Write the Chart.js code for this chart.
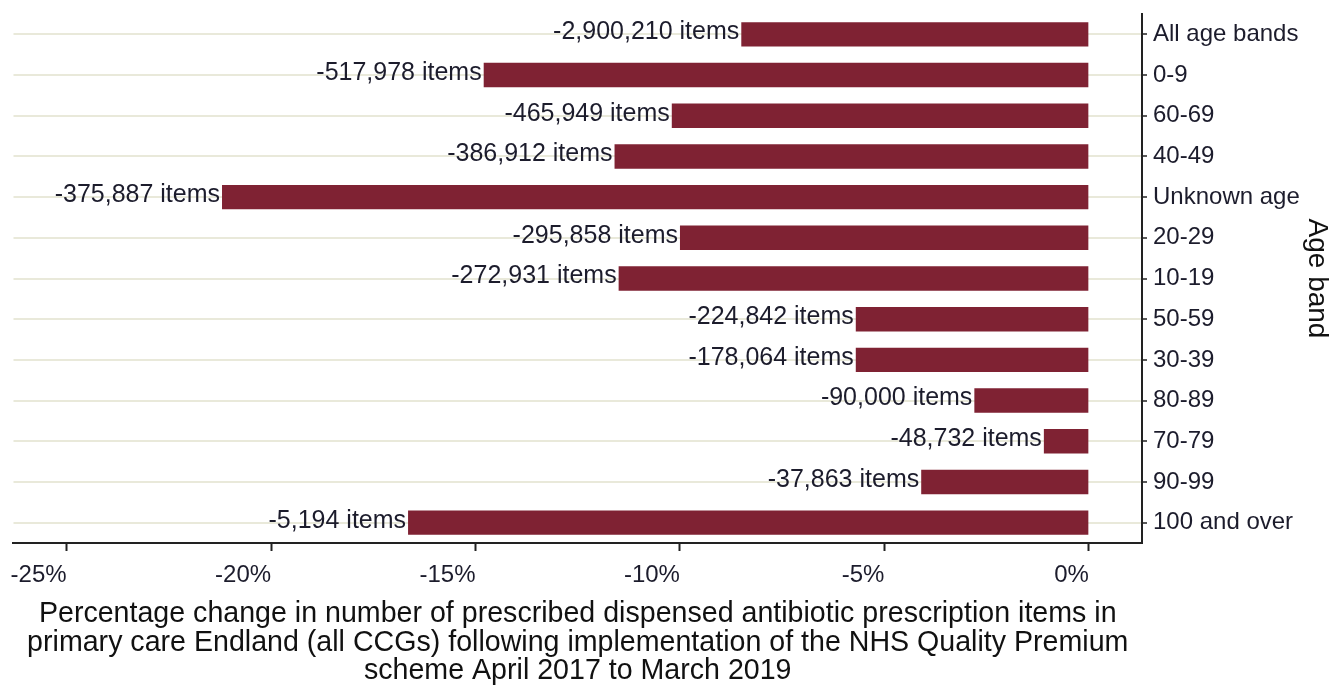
<!DOCTYPE html>
<html>
<head>
<meta charset="utf-8">
<script src="https://cdn.jsdelivr.net/npm/chart.js@4.4.1/dist/chart.umd.min.js"></script>
<style>
  html, body { margin: 0; padding: 0; background: #fff; }
  #wrap { width: 1340px; height: 686px; }
</style>
</head>
<body>
<div id="wrap"><canvas id="ageChart" width="1340" height="686"></canvas></div>
<script>
// age bands, top to bottom as drawn
const ageBands = ['All age bands', '0-9', '60-69', '40-49', 'Unknown age', '20-29', '10-19',
    '50-59', '30-39', '80-89', '70-79', '90-99', '100 and over'];
// percentage change
const pctChange = [-8.5, -14.8, -10.2, -11.6, -21.2, -10.0, -11.5, -5.7, -5.7, -2.8, -1.1, -4.1, -16.65];
// change in number of items (bar labels)
const itemChange = [-2900210, -517978, -465949, -386912, -375887, -295858, -272931,
    -224842, -178064, -90000, -48732, -37863, -5194];
const xTicks = [-25, -20, -15, -10, -5, 0];
const xTitle = ['Percentage change in number of prescribed dispensed antibiotic prescription items in',
    'primary care Endland (all CCGs) following implementation of the NHS Quality Premium',
    'scheme April 2017 to March 2019'];

const FONT = '"Liberation Sans", Arial, sans-serif';

// draws "-x items" to the left of each bar
const itemLabels = {
    id: 'itemLabels',
    afterDatasetsDraw(chart) {
        const ctx = chart.ctx;
        const meta = chart.getDatasetMeta(0);
        ctx.save();
        ctx.font = '25px ' + FONT;
        ctx.fillStyle = '#1c1c2c';
        ctx.textAlign = 'right';
        ctx.textBaseline = 'middle';
        meta.data.forEach((bar, i) => {
            const txt = itemChange[i].toLocaleString('en-GB') + ' items';
            ctx.fillText(txt, bar.x - 2, bar.y - 2);
        });
        ctx.restore();
    }
};

new Chart(document.getElementById('ageChart').getContext('2d'), {
    type: 'bar',
    data: {
        labels: ageBands,
        datasets: [{
            data: pctChange,
            backgroundColor: '#7f2233',
            borderWidth: 0,
            categoryPercentage: 1,
            barPercentage: 0.6
        }]
    },
    plugins: [itemLabels],
    options: {
        indexAxis: 'y',
        responsive: false,
        animation: false,
        layout: { padding: { left: 13, top: 14, right: 6, bottom: 0 } },
        plugins: {
            legend: { display: false },
            tooltip: { enabled: false }
        },
        scales: {
            x: {
                min: -26.3,
                max: 1.3,
                afterBuildTicks: (axis) => { axis.ticks = xTicks.map(v => ({ value: v })); },
                afterFit: (axis) => { axis.height = 143; },
                border: { display: true, color: '#222', width: 2 },
                grid: { drawOnChartArea: false, drawTicks: true, tickLength: 8, tickColor: '#222', tickWidth: 2 },
                ticks: {
                    color: '#1c1c2c',
                    font: { family: FONT, size: 24 },
                    padding: 10,
                    align: 'end',
                    labelOffset: 0,
                    maxRotation: 0,
                    callback: (v) => v + '%'
                },
                title: {
                    display: true,
                    text: xTitle,
                    color: '#111',
                    font: { family: FONT, size: 28.6, lineHeight: 1.01 },
                    padding: { top: 1, bottom: 0 }
                }
            },
            y: {
                position: 'right',
                afterFit: (axis) => {
                    axis.width = 192;
                    axis.paddingTop = 0;
                    axis.paddingBottom = 0;
                },
                border: { display: true, color: '#222', width: 2 },
                grid: { offset: false, color: '#e9e9da', lineWidth: 2, tickLength: 5, tickColor: '#222', tickWidth: 1.5 },
                ticks: {
                    color: '#1c1c2c',
                    font: { family: FONT, size: 24 },
                    padding: 6
                },
                title: {
                    display: true,
                    text: 'Age band',
                    color: '#111',
                    font: { family: FONT, size: 28 },
                    padding: 0
                }
            }
        }
    }
});
</script>
</body>
</html>
